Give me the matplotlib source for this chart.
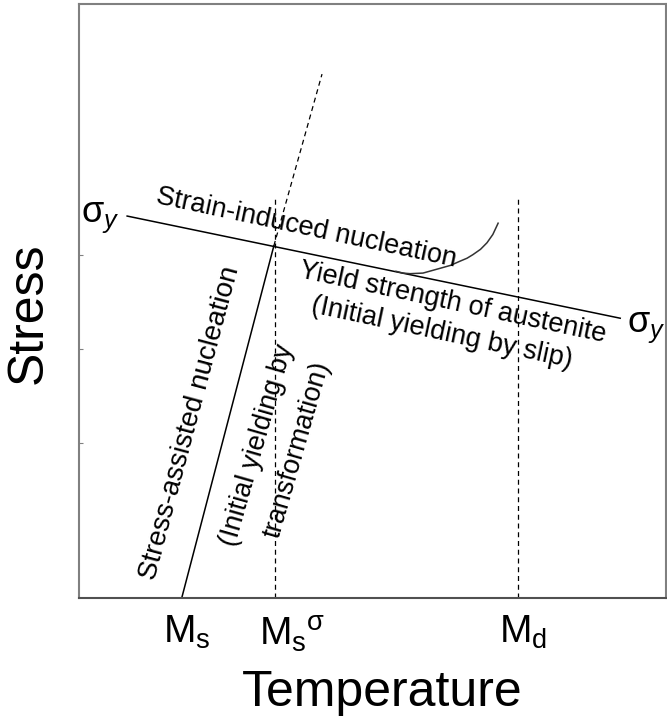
import numpy as np
import matplotlib
matplotlib.use('Agg')
import matplotlib.pyplot as plt
from matplotlib.transforms import ScaledTranslation

plt.rcParams['font.family'] = ['Liberation Sans', 'DejaVu Sans']
plt.rcParams['mathtext.fontset'] = 'custom'
plt.rcParams['mathtext.rm'] = 'Liberation Sans'
plt.rcParams['mathtext.it'] = 'Liberation Sans:italic'

# schematic data (arbitrary units, 0-100 on both axes)

# yield strength of austenite (sigma_y line)
sigy_x = [8.2, 92.2]
sigy_y = [64.3, 47.1]

# stress-assisted nucleation: solid up to sigma_y, dashed above
sa_x = [17.5, 33.2]
sa_y = [0.0, 59.3]
sa_ext_x = [33.2, 41.4]
sa_ext_y = [59.3, 88.2]

# characteristic temperatures
ms, ms_sigma, md = 17.5, 33.4, 74.8
vline_top = 67.3
xtick_pos = [ms, ms_sigma, md]
xtick_labels = [r'$\mathrm{M_s}$', r'$\mathrm{M_s}^{\mathrm{\sigma}}$', r'$\mathrm{M_d}$']

# strain-induced nucleation curve
curve_x = [54.0, 55.2, 56.4, 58.6, 61.5, 63.3, 64.9, 66.1, 67.1, 68.4, 69.5, 70.5, 71.4]
curve_y = [55.0, 54.7, 54.6, 54.7, 55.5, 56.0, 56.7, 57.2, 57.8, 58.7, 59.8, 61.2, 63.1]

ytick_pos = [26.1, 41.9, 57.7]

fig = plt.figure(figsize=(6.67, 7.21), dpi=100)
ax = fig.add_axes([79/667, 123/721, 587/667, 594/721])
ax.set_xlim(0, 100)
ax.set_ylim(0, 100)

ax.plot(sigy_x, sigy_y, color='black', lw=1.1)
ax.plot(sa_x, sa_y, color='black', lw=1.1)
ax.plot(sa_ext_x, sa_ext_y, color='black', lw=0.9, ls=(0, (4, 3)))
ax.plot([ms_sigma, ms_sigma], [0, vline_top], color='black', lw=0.9, ls=(0, (4, 3)))
ax.plot([md, md], [0, vline_top], color='black', lw=0.9, ls=(0, (4, 3)))
ax.plot(curve_x, curve_y, color='#333333', lw=1.1)

# annotations
fs = 19.5
ax.text(38.8, 62.3, 'Strain-induced nucleation', fontsize=fs, rotation=-12,
        ha='center', va='center', rotation_mode='anchor')
ax.text(63.7, 49.7, 'Yield strength of austenite', fontsize=fs, rotation=-12,
        ha='center', va='center', rotation_mode='anchor')
ax.text(61.8, 44.6, '(Initial yielding by slip)', fontsize=fs, rotation=-12,
        ha='center', va='center', rotation_mode='anchor')
ax.text(19.0, 29.5, 'Stress-assisted nucleation', fontsize=20, rotation=75,
        ha='center', va='center', rotation_mode='anchor')
ax.text(30.3, 25.8, '(Initial yielding by', fontsize=fs, rotation=74,
        ha='center', va='center', rotation_mode='anchor')
ax.text(37.2, 24.9, 'transformation)', fontsize=fs, rotation=74,
        ha='center', va='center', rotation_mode='anchor')
ax.text(3.7, 64.0, r'$\mathrm{\sigma}_y$', fontsize=26, ha='center', va='center')
ax.text(96.6, 45.5, r'$\mathrm{\sigma}_y$', fontsize=26, ha='center', va='center',
        clip_on=False)

# axes styling
for side in ['left', 'top', 'right']:
    ax.spines[side].set_color('#808080')
    ax.spines[side].set_linewidth(1.5)
ax.spines['bottom'].set_color('#505050')
ax.spines['bottom'].set_linewidth(1.5)

ax.set_yticks(ytick_pos)
ax.set_yticklabels([])
ax.tick_params(axis='y', direction='in', length=3, color='#808080')
ax.set_xticks(xtick_pos)
ax.set_xticklabels(xtick_labels, fontsize=28)
ax.tick_params(axis='x', length=0, pad=11)
for lab, dx in zip(ax.get_xticklabels(), [5, 17, 5]):
    lab.set_transform(lab.get_transform() + ScaledTranslation(dx / 100, 0, fig.dpi_scale_trans))

ax.set_xlabel('Temperature', fontsize=36)
ax.set_ylabel('Stress', fontsize=36)
ax.xaxis.set_label_coords(0.516, -0.122)
ax.yaxis.set_label_coords(-0.046, 0.48)

fig.savefig('out.png', dpi=100)
